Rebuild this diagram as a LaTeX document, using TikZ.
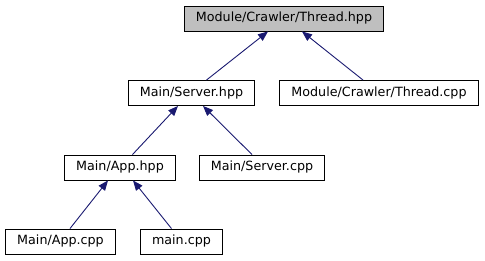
\documentclass[tikz,border=0pt]{standalone}
\usepackage{fontspec}
\setmainfont{DejaVu Sans}
\usetikzlibrary{arrows.meta}
\definecolor{edgeblue}{HTML}{191970}
\tikzset{
  file/.style={draw=black, line width=0.9pt, fill=white, inner xsep=11.5pt, inner ysep=0pt,
    minimum height=25pt, text height=9.4pt, text depth=2.6pt,
    font=\fontsize{12.7}{14}\selectfont},
  root/.style={file, fill=black!25},
  incl/.style={draw=edgeblue, line width=0.9pt, -{Triangle[length=10pt,width=8pt]}}
}
\begin{document}
\begin{tikzpicture}[x=1pt, y=-1pt]
  \useasboundingbox (0,0) rectangle (485,261);
  \node[root] (thread_hpp) at (284,18.5) {Module/Crawler/Thread.hpp};
  \node[file] (server_hpp) at (191.5,93) {Main/Server.hpp};
  \node[file] (thread_cpp) at (379,93) {Module/Crawler/Thread.cpp};
  \node[file] (app_hpp) at (120,167.5) {Main/App.hpp};
  \node[file] (server_cpp) at (262,167.5) {Main/Server.cpp};
  \node[file] (app_cpp) at (60.5,241.5) {Main/App.cpp};
  \node[file] (main_cpp) at (181.5,241.5) {main.cpp};
  \draw[incl] ([xshift=15pt]server_hpp.north) -- ([xshift=-16pt]thread_hpp.south);
  \draw[incl] ([xshift=-16pt]thread_cpp.north) -- ([xshift=18pt]thread_hpp.south);
  \draw[incl] ([xshift=12.5pt]app_hpp.north) -- ([xshift=-13.5pt]server_hpp.south);
  \draw[incl] ([xshift=-10pt]server_cpp.north) -- ([xshift=11.5pt]server_hpp.south);
  \draw[incl] ([xshift=9.5pt]app_cpp.north) -- ([xshift=-12pt]app_hpp.south);
  \draw[incl] ([xshift=-10pt]main_cpp.north) -- ([xshift=13pt]app_hpp.south);
\end{tikzpicture}
\end{document}
